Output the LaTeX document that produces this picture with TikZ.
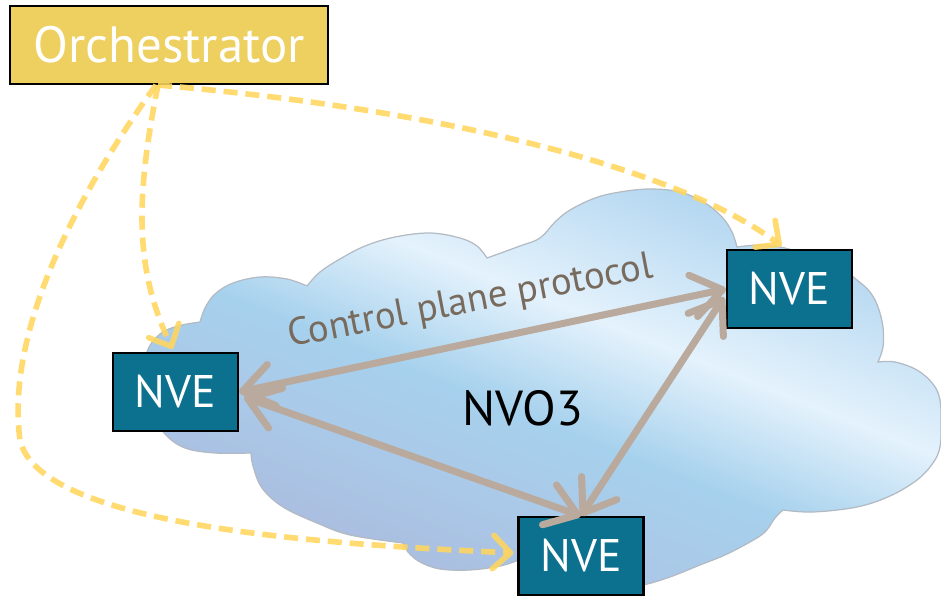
\documentclass[tikz,border=0pt]{standalone}
\usepackage{fontspec}
\setmainfont{PT Sans}
\usetikzlibrary{arrows.meta}

\definecolor{orchfill}{RGB}{237,208,95}
\definecolor{nvefill}{RGB}{12,113,142}
\definecolor{ctrlarrow}{RGB}{185,170,157}
\definecolor{ctrltext}{RGB}{120,107,93}
\definecolor{orchline}{RGB}{255,214,94}
\definecolor{cloudedge}{RGB}{178,186,196}
\definecolor{cloudlav}{RGB}{170,190,224}
\definecolor{cloudmix}{RGB}{170,201,232}
\definecolor{cloudmid}{RGB}{166,209,237}
\definecolor{cloudlight}{RGB}{228,242,252}
\definecolor{cloudtop}{RGB}{178,214,240}

% diagonal banded fill of the cloud (bottom = lavender, top = blue)
\pgfdeclareverticalshading{cloudsh}{100bp}{color(0bp)=(cloudlav); color(28bp)=(cloudlav);
  color(37bp)=(cloudmix); color(46bp)=(cloudmid); color(57.5bp)=(cloudlight);
  color(73bp)=(cloudtop); color(100bp)=(cloudtop)}

\begin{document}
\begin{tikzpicture}[x=0.02cm,y=-0.02cm,
  nvebox/.style={draw=black, line width=1.2pt, fill=nvefill, text=white,
    minimum width=2.5cm, minimum height=1.56cm, inner sep=0pt,
    font=\fontsize{26}{30}\selectfont},
  orchbox/.style={draw=black, line width=1.2pt, fill=orchfill, text=white,
    minimum width=6.36cm, minimum height=1.56cm, inner sep=0pt,
    font=\fontsize{29}{34}\selectfont},
  ctrl/.style={draw=ctrlarrow, line width=4pt,
    {Straight Barb[length=17pt,width=24pt,round]}-{Straight Barb[length=17pt,width=24pt,round]}},
  orchlink/.style={draw=orchline, line width=3.2pt, draw opacity=0.88,
    dash pattern=on 8pt off 4.5pt,
    -{Straight Barb[length=10pt,width=19pt,round]}},
]
\useasboundingbox (0,0) rectangle (941,596);

% cloud outline, one smooth plot per lobe
\path[save path=\cloudp]
  plot[smooth,tension=0.6] coordinates {(250,453) (215,453) (185,448) (165,434) (150,410) (145,380) (147,352) (160,334) (178,326) (200,322)}
  -- plot[smooth,tension=0.6] coordinates {(200,322) (205,308) (215,294) (233,283) (260,277) (287,279) (307,286)}
  -- plot[smooth,tension=0.6] coordinates {(307,286) (320,272) (340,259) (365,246) (395,237) (430,233) (460,238) (477,246) (487,258)}
  -- plot[smooth,tension=0.6] coordinates {(487,258) (520,246) (540,238) (555,222) (570,210) (595,198) (620,192) (650,189) (680,192) (705,203) (722,217) (732,232) (737,247)}
  -- plot[smooth,tension=0.6] coordinates {(737,247) (760,245) (785,248) (815,258) (840,268) (857,280) (870,292) (878,307) (883,327) (883,347) (878,362)}
  -- plot[smooth,tension=0.6] coordinates {(878,362) (895,362) (917,370) (933,384) (940,400) (941,425) (940,447) (933,463) (917,480) (890,496) (857,507) (813,512) (783,510)}
  -- plot[smooth,tension=0.6] coordinates {(783,510) (775,518) (765,532) (750,542) (725,555) (700,565) (670,577) (643,585) (610,590) (570,588) (540,575) (519,560)}
  -- plot[smooth,tension=0.6] coordinates {(519,560) (500,566) (470,570) (440,569) (420,562) (408,552) (403,543)}
  -- plot[smooth,tension=0.6] coordinates {(403,543) (350,535) (317,523) (283,507) (262,488) (253,466) (251,453)}
  -- cycle;

\begin{scope}
  \clip[use path=\cloudp];
  \begin{scope}[transform canvas={rotate=-21.8}]
    \shade[shading=cloudsh] (-400,-100) rectangle (1400,400);
  \end{scope}
\end{scope}
\draw[cloudedge, line width=0.7pt, use path=\cloudp];

% boxes
\node[orchbox] (orch) at (169,45) {Orchestrator};
\node[nvebox] (nveL) at (175.5,392) {NVE};
\node[nvebox] (nveR) at (789.5,289) {NVE};
\node[nvebox] (nveB) at (581,556) {NVE};

% labels
\node[font=\fontsize{28}{32}\selectfont, text=black] (nvo) at (523,408) {NVO3};
\node[font=\fontsize{22}{26}\selectfont, text=ctrltext, rotate=10.8, anchor=base west, inner sep=0pt]
  (cpp) at (290,347) {Control plane protocol};

% control plane links
\draw[ctrl] (nveL.east) -- (nveR.west);
\draw[ctrl] ([shift={(5,5)}]nveL.east) -- (nveB.north);
\draw[ctrl] ([shift={(-2,8)}]nveR.west) -- (nveB.north);

% orchestrator links
\draw[orchlink] ([shift={(-11,0)}]orch.south) .. controls (450,110) and (680,170) .. ([shift={(-8,-3)}]nveR.north);
\draw[orchlink] ([shift={(-11,0)}]orch.south) .. controls (135,200) and (135,270) .. ([shift={(-3,-3)}]nveL.north);
\draw[orchlink] ([shift={(-13,0)}]orch.south) .. controls (80,190) and (5,330) .. (20,440)
  .. controls (40,530) and (350,545) .. ([shift={(-4,-3)}]nveB.west);
\end{tikzpicture}
\end{document}
